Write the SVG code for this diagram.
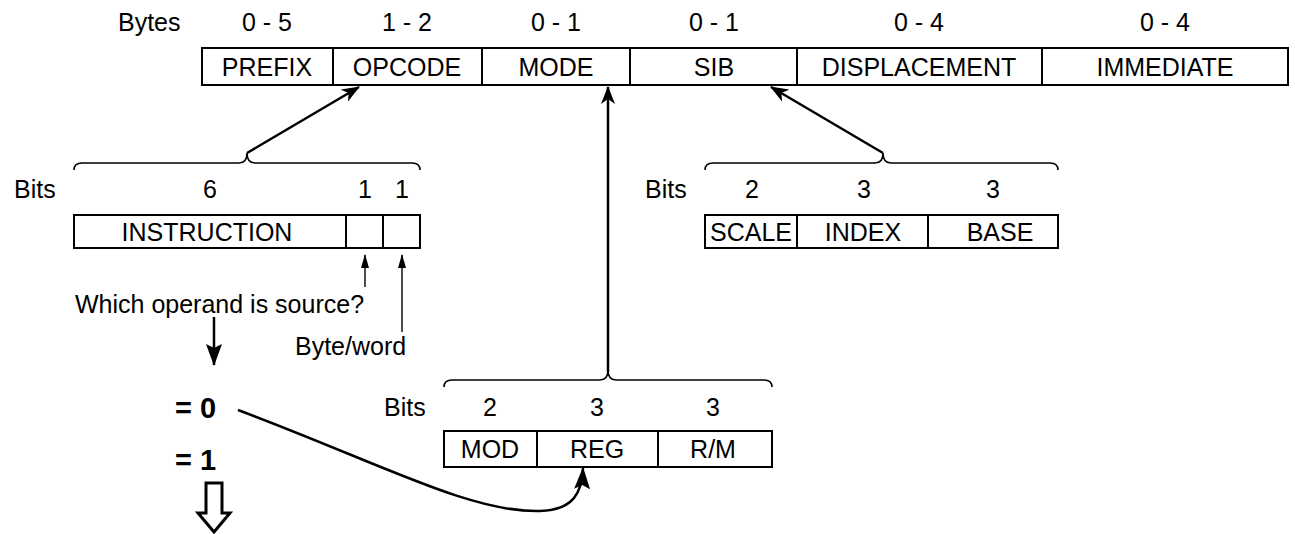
<svg xmlns="http://www.w3.org/2000/svg" width="1295" height="534" viewBox="0 0 1295 534">
<style>
text{font-family:"Liberation Sans",Arial,sans-serif;font-size:25px;fill:#000}
.c{text-anchor:middle}
.b{font-weight:bold;font-size:29px}
.box{fill:#fff;stroke:#000;stroke-width:2}
.div{stroke:#000;stroke-width:2}
.brace{fill:none;stroke:#000;stroke-width:1.6}
.thick{fill:none;stroke:#000;stroke-width:2.5}
.thin{fill:none;stroke:#000;stroke-width:1.4}
</style>
<defs>
<marker id="ah" markerWidth="18" markerHeight="14" refX="17" refY="7" orient="auto" markerUnits="userSpaceOnUse">
<path d="M0,0 L18,7 L0,14 L5,7 Z" fill="#000"/>
</marker>
<marker id="ahb" markerWidth="22" markerHeight="16" refX="21" refY="8" orient="auto" markerUnits="userSpaceOnUse">
<path d="M0,0 L22,8 L0,16 L4,8 Z" fill="#000"/>
</marker>
<marker id="ahs" markerWidth="14" markerHeight="8" refX="13" refY="4" orient="auto" markerUnits="userSpaceOnUse">
<path d="M0,0 L14,4 L0,8 Z" fill="#000"/>
</marker>
</defs>

<g id="top-row">
<text x="118" y="31">Bytes</text>
<text class="c" x="267" y="31">0 - 5</text>
<text class="c" x="407" y="31">1 - 2</text>
<text class="c" x="556" y="31">0 - 1</text>
<text class="c" x="714" y="31">0 - 1</text>
<text class="c" x="919" y="31">0 - 4</text>
<text class="c" x="1165" y="31">0 - 4</text>
<rect class="box" x="202" y="48" width="1086" height="37"/>
<line class="div" x1="333" y1="48" x2="333" y2="85"/>
<line class="div" x1="482" y1="48" x2="482" y2="85"/>
<line class="div" x1="630" y1="48" x2="630" y2="85"/>
<line class="div" x1="797" y1="48" x2="797" y2="85"/>
<line class="div" x1="1042" y1="48" x2="1042" y2="85"/>
<text class="c" x="267" y="76">PREFIX</text>
<text class="c" x="407" y="76">OPCODE</text>
<text class="c" x="556" y="76">MODE</text>
<text class="c" x="714" y="76">SIB</text>
<text class="c" x="919" y="76">DISPLACEMENT</text>
<text class="c" x="1165" y="76">IMMEDIATE</text>
</g>

<g id="opcode-detail">
<path class="brace" d="M74,170 Q74,163 82,163 L239,163 Q247,163 247,153 Q247,163 255,163 L412,163 Q420,163 420,170"/>
<text x="14" y="198">Bits</text>
<text class="c" x="210" y="198">6</text>
<text class="c" x="365" y="198">1</text>
<text class="c" x="402" y="198">1</text>
<rect class="box" x="74" y="215" width="346" height="33"/>
<line class="div" x1="346" y1="215" x2="346" y2="248"/>
<line class="div" x1="383" y1="215" x2="383" y2="248"/>
<text class="c" x="207" y="241">INSTRUCTION</text>
<text x="75" y="313">Which operand is source?</text>
<text x="295" y="355">Byte/word</text>
<text class="b" x="175" y="418">= 0</text>
<text class="b" x="175" y="470">= 1</text>
</g>

<g id="sib-detail">
<path class="brace" d="M705,170 Q705,163 713,163 L875,163 Q883,163 883,153 Q883,163 891,163 L1050,163 Q1058,163 1058,170"/>
<text x="645" y="198">Bits</text>
<text class="c" x="752" y="198">2</text>
<text class="c" x="864" y="198">3</text>
<text class="c" x="993" y="198">3</text>
<rect class="box" x="705" y="215" width="353" height="33"/>
<line class="div" x1="797" y1="215" x2="797" y2="248"/>
<line class="div" x1="928" y1="215" x2="928" y2="248"/>
<text class="c" x="751" y="241">SCALE</text>
<text class="c" x="863" y="241">INDEX</text>
<text class="c" x="1000" y="241">BASE</text>
</g>

<g id="mode-detail">
<path class="brace" d="M444,387 Q444,380 452,380 L600,380 Q608,380 608,370 Q608,380 616,380 L764,380 Q772,380 772,387"/>
<text x="384" y="416">Bits</text>
<text class="c" x="490" y="416">2</text>
<text class="c" x="597" y="416">3</text>
<text class="c" x="713" y="416">3</text>
<rect class="box" x="444" y="431" width="328" height="36"/>
<line class="div" x1="537" y1="431" x2="537" y2="467"/>
<line class="div" x1="658" y1="431" x2="658" y2="467"/>
<text class="c" x="490" y="458">MOD</text>
<text class="c" x="597" y="458">REG</text>
<text class="c" x="713" y="458">R/M</text>
</g>

<g id="connectors">
<line class="thick" x1="247" y1="153" x2="359" y2="87" marker-end="url(#ah)"/>
<line class="thick" x1="883" y1="153" x2="771" y2="87" marker-end="url(#ah)"/>
<line class="thick" x1="608" y1="372" x2="608" y2="87" stroke-width="2" marker-end="url(#ah)"/>
<line class="thin" x1="365" y1="287" x2="365" y2="255" marker-end="url(#ahs)"/>
<line class="thin" x1="402" y1="332" x2="402" y2="255" marker-end="url(#ahs)"/>
<line class="thick" x1="214" y1="317" x2="214" y2="365" stroke-width="3.5" marker-end="url(#ahb)"/>
<path class="thick" d="M238,410 C380,463 470,513 540,511 C574,510 582,492 583,468" stroke-width="3" marker-end="url(#ahb)"/>
<path d="M206,483 L222,483 L222,513 L230,513 L214,532 L198,513 L206,513 Z" fill="#fff" stroke="#000" stroke-width="3" stroke-linejoin="miter"/>
</g>
</svg>
